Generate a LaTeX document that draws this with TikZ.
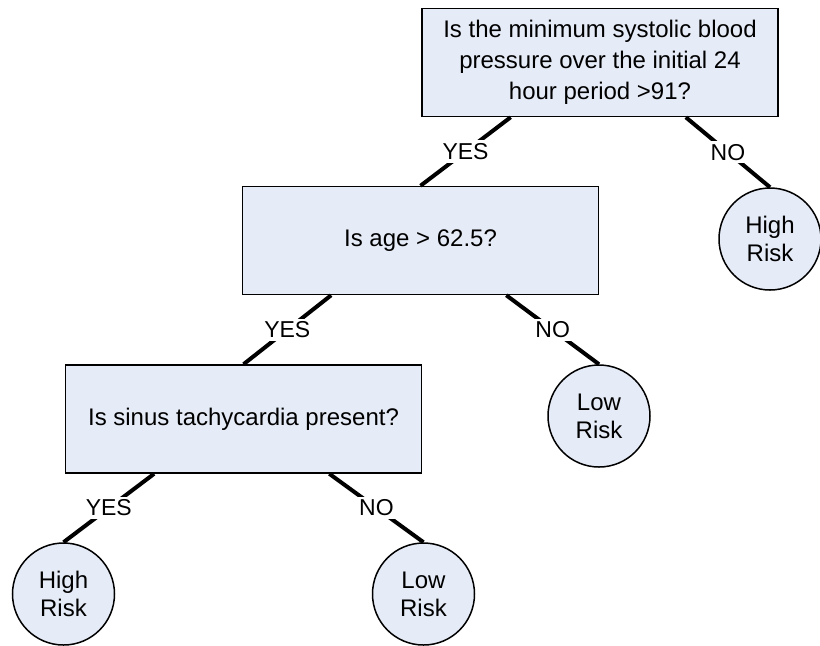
\documentclass[tikz,border=0pt]{standalone}
\usepackage{fontspec}
\setmainfont{Liberation Sans}
\usetikzlibrary{calc}
\definecolor{boxfill}{RGB}{230,236,247}
\begin{document}
\begin{tikzpicture}[x=5pt,y=5pt]
\tikzstyle{every node}+=[font=\fontsize{12}{15.5}\selectfont]
\tikzstyle{question}=[draw=black, line width=0.75pt, fill=boxfill, minimum width=178pt, minimum height=54pt, inner sep=0pt, align=center]
\tikzstyle{risk}=[draw=black, line width=0.75pt, fill=boxfill, circle, minimum size=51pt, inner sep=0pt, align=center, font=\fontsize{12}{14}\selectfont]
\tikzstyle{branch}=[line width=2pt]
\tikzstyle{answer}=[midway, fill=white, inner sep=1.5pt, font=\fontsize{11.5}{14}\selectfont]
\useasboundingbox (0,0) rectangle (82,-64.5);
\draw (60.0,-6.25) node [question] (q1) {Is the minimum systolic blood\\pressure over the initial 24\\hour period >91?};
\draw (42.05,-24.05) node [question] (q2) {Is age > 62.5?};
\draw (24.35,-41.9) node [question] (q3) {Is sinus tachycardia present?};
\draw (77.0,-23.9) node [risk] (r1) {High\\Risk};
\draw (59.9,-41.6) node [risk] (r2) {Low\\Risk};
\draw (6.35,-59.4) node [risk] (r3) {High\\Risk};
\draw (42.35,-59.4) node [risk] (r4) {Low\\Risk};
\draw [branch] ($(q1.south west)!0.25!(q1.south east)$) -- (q2.north) node [answer] {YES};
\draw [branch] ($(q1.south west)!0.74!(q1.south east)$) -- (r1.north) node [answer] {NO};
\draw [branch] ($(q2.south west)!0.25!(q2.south east)$) -- (q3.north) node [answer] {YES};
\draw [branch] ($(q2.south west)!0.74!(q2.south east)$) -- (r2.north) node [answer] {NO};
\draw [branch] ($(q3.south west)!0.25!(q3.south east)$) -- (r3.north) node [answer] {YES};
\draw [branch] ($(q3.south west)!0.74!(q3.south east)$) -- (r4.north) node [answer] {NO};
\end{tikzpicture}
\end{document}
